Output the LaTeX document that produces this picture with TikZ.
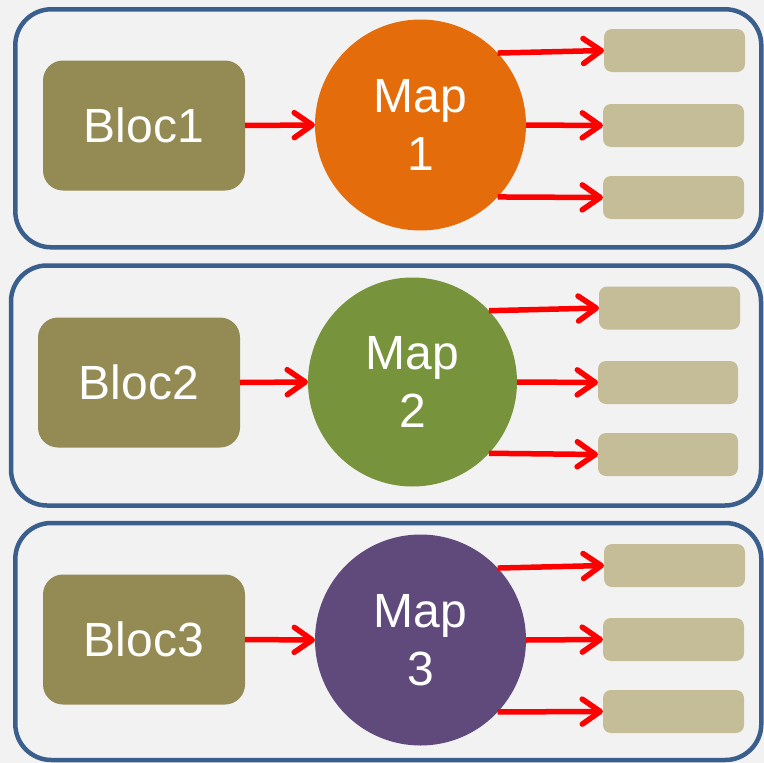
\documentclass[tikz,border=0pt]{standalone}
\usepackage{fontspec}
\setmainfont{Liberation Sans}
\usetikzlibrary{arrows.meta}
\definecolor{pagebg}{HTML}{F2F2F2}
\definecolor{frameblue}{HTML}{3A5F8D}
\definecolor{blocfill}{HTML}{948A54}
\definecolor{slotfill}{HTML}{C4BD97}
\definecolor{maporange}{HTML}{E46C0A}
\definecolor{mapgreen}{HTML}{77933C}
\definecolor{mappurple}{HTML}{604A7B}
\definecolor{arrowred}{HTML}{FF0000}
\begin{document}
\begin{tikzpicture}[x=1pt,y=-1pt,
  panel/.style={draw=frameblue, line width=4.5pt, fill=pagebg, rounded corners=36pt,
    minimum width=746pt, minimum height=238pt, outer sep=0pt, inner sep=0pt},
  bloc/.style={fill=blocfill, rounded corners=20pt, minimum width=202pt, minimum height=130pt,
    outer sep=0pt, inner sep=0pt, text=white, font=\fontsize{48}{56}\selectfont},
  mapnode/.style={circle, minimum size=211pt, outer sep=0pt, inner sep=0pt, text=white,
    align=center, font=\fontsize{48}{58}\selectfont},
  slot/.style={fill=slotfill, rounded corners=8pt, minimum width=141pt, minimum height=43pt,
    outer sep=0pt, inner sep=0pt},
  flow/.style={draw=arrowred, line width=5.5pt,
    -{Straight Barb[length=18pt, width=25pt, round]}}
]
\useasboundingbox (0,0) rectangle (764,763);
\fill[pagebg] (0,0) rectangle (764,763);

% three framed groups
\node[panel] (p1) at (388.3,128.3) {};
\node[panel, minimum width=750pt, minimum height=240pt] (p2) at (386,385.5) {};
\node[panel, minimum height=237pt] (p3) at (388.3,641.5) {};

% group 1
\node[bloc] (b1) at (144,125.5) {Bloc1};
\node[mapnode, fill=maporange] (m1) at (420.5,125) {Map\\1};
\node[slot] (s11) at (674.5,50.5) {};
\node[slot] (s12) at (673.5,125.5) {};
\node[slot] (s13) at (673.5,197.5) {};
\draw[flow] (b1.east) -- (m1.west);
\draw[flow] (m1.43) -- (s11.west);
\draw[flow] (m1.east) -- (s12.west);
\draw[flow] (m1.-43) -- (s13.west);

% group 2
\node[bloc] (b2) at (139,382.5) {Bloc2};
\node[mapnode, fill=mapgreen, minimum size=209pt] (m2) at (412.5,382) {Map\\2};
\node[slot] (s21) at (669.5,308) {};
\node[slot, minimum width=140pt] (s22) at (668,382.5) {};
\node[slot, minimum width=140pt] (s23) at (668,454.5) {};
\draw[flow] (b2.east) -- (m2.west);
\draw[flow] (m2.43) -- (s21.west);
\draw[flow] (m2.east) -- (s22.west);
\draw[flow] (m2.-43) -- (s23.west);

% group 3
\node[bloc] (b3) at (144,639.5) {Bloc3};
\node[mapnode, fill=mappurple] (m3) at (420.5,640) {Map\\3};
\node[slot] (s31) at (674.5,565.5) {};
\node[slot] (s32) at (673.5,639.5) {};
\node[slot] (s33) at (673.5,711.5) {};
\draw[flow] (b3.east) -- (m3.west);
\draw[flow] (m3.43) -- (s31.west);
\draw[flow] (m3.east) -- (s32.west);
\draw[flow] (m3.-43) -- (s33.west);
\end{tikzpicture}
\end{document}
